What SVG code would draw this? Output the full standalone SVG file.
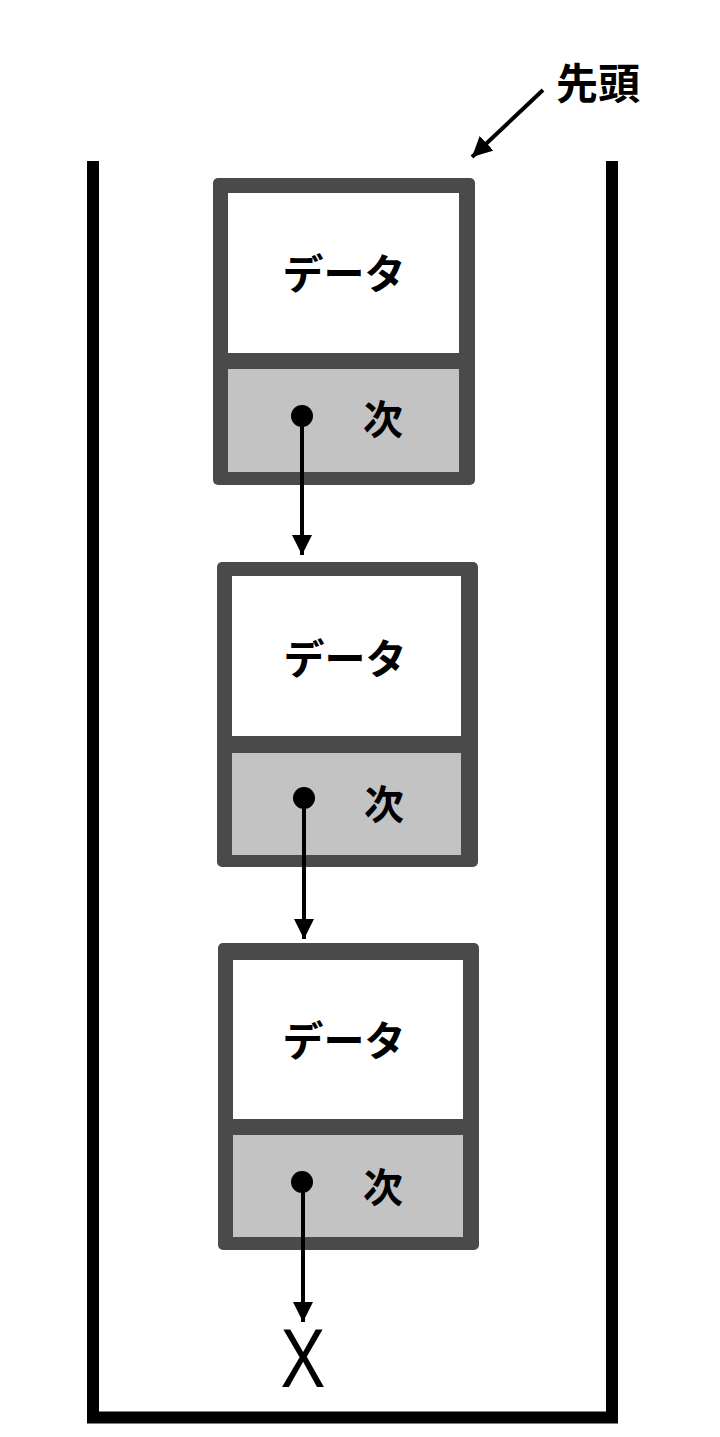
<svg xmlns="http://www.w3.org/2000/svg" width="720" height="1437" viewBox="0 0 720 1437">
<style>
.frame{fill:#4a4a4a}
.data{fill:#ffffff}
.next{fill:#c3c3c3}
.lbl{font-family:"Noto Sans CJK JP","Noto Sans",sans-serif;font-weight:700;fill:#000;text-anchor:middle}
.dl{font-size:41px}
.nl{font-size:40px}
.link{stroke:#000;stroke-width:4;fill:none}
</style>
<defs>
<marker id="ah" markerWidth="5" markerHeight="5" refX="5" refY="2.5" orient="auto" markerUnits="strokeWidth">
<path d="M0,0 L5,2.5 L0,5 Z" fill="#000"/>
</marker>
</defs>
<rect width="720" height="1437" fill="#ffffff"/>
<g id="container">
<path d="M93,161 V1417.5 H612 V161" fill="none" stroke="#000" stroke-width="12"/>
</g>
<g id="head-label">
<text class="lbl" x="598" y="99" font-size="42">先頭</text>
</g>
<g id="node1">
<rect class="frame" x="213" y="178" width="262" height="307" rx="5"/>
<rect class="data" x="228" y="193" width="231" height="160"/>
<rect class="next" x="228" y="369" width="231" height="103"/>
<text class="lbl dl" x="344" y="289">データ</text>
<text class="lbl nl" x="383" y="434">次</text>
<circle cx="302" cy="416" r="11" fill="#000"/>
</g>
<g id="node2">
<rect class="frame" x="217" y="562" width="261" height="305" rx="5"/>
<rect class="data" x="232" y="576" width="229" height="160"/>
<rect class="next" x="232" y="753" width="229" height="102"/>
<text class="lbl dl" x="345" y="674">データ</text>
<text class="lbl nl" x="384" y="819">次</text>
<circle cx="304" cy="798" r="11" fill="#000"/>
</g>
<g id="node3">
<rect class="frame" x="218" y="943" width="261" height="307" rx="5"/>
<rect class="data" x="233" y="960" width="230" height="159"/>
<rect class="next" x="233" y="1135" width="230" height="102"/>
<text class="lbl dl" x="344" y="1056">データ</text>
<text class="lbl nl" x="383" y="1202">次</text>
<circle cx="302" cy="1182" r="11" fill="#000"/>
</g>
<g id="null-end">
<text x="303" y="1387" font-family="Liberation Sans, Arial, sans-serif" font-size="84" text-anchor="middle" transform="translate(303,0) scale(0.8,1) translate(-303,0)">X</text>
</g>
<g id="connectors">
<line class="link" x1="543" y1="90" x2="472" y2="157" stroke-width="5" marker-end="url(#ah)"/>
<line class="link" x1="302" y1="416" x2="302" y2="555" marker-end="url(#ah)"/>
<line class="link" x1="304" y1="798" x2="304" y2="939" marker-end="url(#ah)"/>
<line class="link" x1="303" y1="1182" x2="303" y2="1322" marker-end="url(#ah)"/>
</g>
</svg>
